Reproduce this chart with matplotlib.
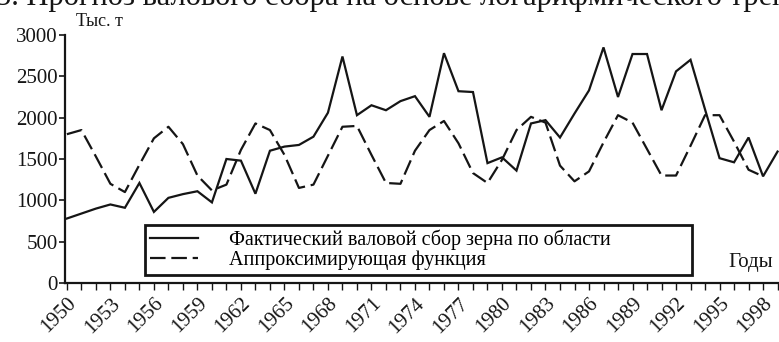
import matplotlib
matplotlib.use("Agg")
import matplotlib.pyplot as plt
from matplotlib.ticker import MultipleLocator

plt.rcParams['font.family'] = ['Liberation Serif', 'DejaVu Serif']

# Gross grain harvest in the region, thousand tonnes
years_actual = list(range(1950, 2000))
actual = [780, 840, 900, 950, 910, 1210, 860, 1030, 1075, 1110,
          975, 1500, 1480, 1080, 1600, 1650, 1670, 1770, 2060, 2740,
          2030, 2150, 2090, 2200, 2260, 2010, 2780, 2320, 2310, 1450,
          1520, 1360, 1930, 1970, 1760, 2050, 2330, 2850, 2250, 2770,
          2770, 2090, 2560, 2700, 2100, 1510, 1460, 1760, 1290, 1590]

# Approximating function
years_fit = list(range(1950, 1999))
fitted = [1800, 1850, 1530, 1200, 1100, 1430, 1750, 1890, 1680, 1300,
          1120, 1190, 1610, 1930, 1850, 1550, 1150, 1190, 1540, 1890,
          1900, 1550, 1210, 1200, 1600, 1850, 1960, 1690, 1330, 1210,
          1490, 1850, 2010, 1940, 1420, 1230, 1350, 1700, 2030, 1940,
          1620, 1300, 1300, 1660, 2030, 2030, 1710, 1370, 1290]

y_ticks = [0, 500, 1000, 1500, 2000, 2500, 3000]
x_ticks = list(range(1950, 2000, 3))

label_actual = "Фактический валовой сбор зерна по области"
label_fit = "Аппроксимирующая функция"

W, H = 779, 342
fig = plt.figure(figsize=(W / 100, H / 100), dpi=100)
ax = fig.add_axes([65 / W, (H - 283) / H, (W - 65) / W, (283 - 35) / H])

ink = "#151515"
ax.plot(years_actual, actual, color=ink, lw=1.6, solid_joinstyle='miter',
        label=label_actual)
ax.plot(years_fit, fitted, color=ink, lw=1.6, linestyle=(0, (7, 2.6)),
        label=label_fit)

ax.set_xlim(1949.87, 1999.1)
ax.set_ylim(0, 3000)

for side in ("top", "right"):
    ax.spines[side].set_visible(False)
for side in ("left", "bottom"):
    ax.spines[side].set_linewidth(1.6)
    ax.spines[side].set_color(ink)

ax.set_yticks(y_ticks)
ax.set_yticklabels([str(v) for v in y_ticks], fontsize=15)
ax.tick_params(axis='y', direction='out', length=4, width=1.2, pad=1,
               colors=ink)

ax.set_xticks(x_ticks)
ax.set_xticklabels([str(v) for v in x_ticks], fontsize=15, rotation=45,
                   ha='right', rotation_mode='anchor')
ax.xaxis.set_minor_locator(MultipleLocator(1))
ax.tick_params(axis='x', which='both', direction='out', length=5, width=1,
               pad=3, colors=ink)

fig.text(76 / W, (H - 21) / H, "Тыс. т", fontsize=13, va='center',
         ha='left', color=ink)
fig.text(728 / W, (H - 262) / H, "Годы", fontsize=15, va='center',
         ha='left', color=ink)
fig.text(-4 / W, (H - 5) / H,
         "3. Прогноз валового сбора на основе логарифмического тренда",
         fontsize=22, va='baseline', ha='left', color=ink)

leg = ax.legend(loc='lower left',
                bbox_to_anchor=((145 - 65) / 714, (283 - 275) / 248,
                                (692 - 145) / 714, (275 - 222) / 248),
                mode='expand', fontsize=14.5, frameon=True, fancybox=False,
                handlelength=2.4, handletextpad=1.5, borderpad=0.25,
                labelspacing=0.0, borderaxespad=0)
leg.get_frame().set_edgecolor(ink)
leg.get_frame().set_linewidth(2)
leg.get_frame().set_alpha(1)

fig.savefig("out.png", dpi=100)
